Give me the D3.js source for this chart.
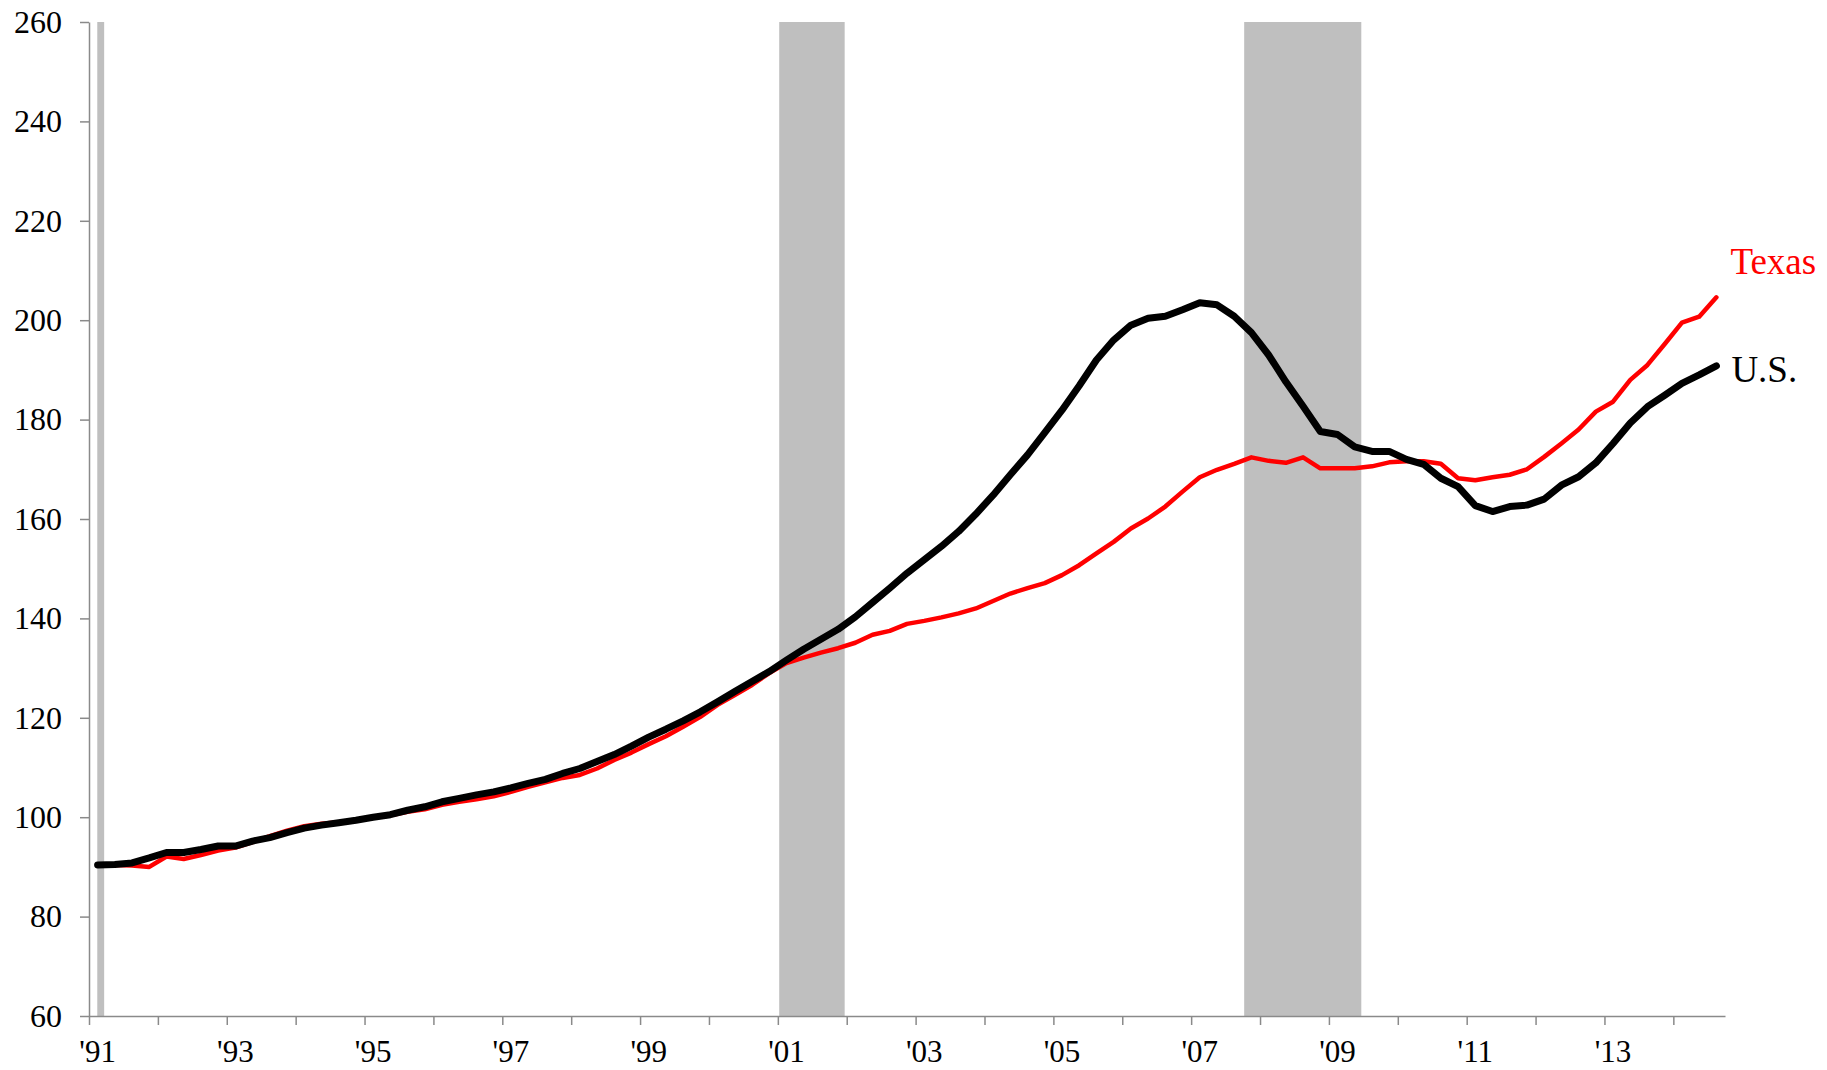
<!DOCTYPE html>
<html lang="en">
<head>
    <meta charset="UTF-8">
    <title>house prices</title>
    <script src="https://d3js.org/d3.v7.min.js"></script>
    <style>
        body { margin: 0; background: #fff; }
        text { font-family: "Liberation Serif", "Times New Roman", serif; }
    </style>
</head>
<body>
<div id="fig"></div>
<script>
    // quarterly index, 1991Q1 .. 2014Q3
    let firstYear = 1991;
    let us = [
        90.4, 90.5, 90.8, 91.8, 92.9, 92.9, 93.5, 94.2, 94.2, 95.2, 95.9, 96.9,
        97.8, 98.4, 98.9, 99.4, 100.0, 100.5, 101.4, 102.1, 103.1, 103.8, 104.5, 105.1,
        105.9, 106.8, 107.6, 108.8, 109.8, 111.2, 112.6, 114.3, 116.1, 117.7, 119.4, 121.2,
        123.2, 125.3, 127.3, 129.3, 131.6, 133.8, 135.8, 137.8, 140.3, 143.2, 146.1, 149.1,
        151.8, 154.5, 157.5, 161.0, 164.8, 168.9, 172.9, 177.4, 181.9, 186.8, 192.0, 196.0,
        199.0, 200.4, 200.8, 202.1, 203.5, 203.1, 200.8, 197.5, 193.0, 187.6, 182.7, 177.6,
        177.0, 174.5, 173.6, 173.6, 172.0, 171.0, 168.2, 166.5, 162.7, 161.5, 162.5, 162.8,
        164.0, 166.8, 168.5, 171.3, 175.2, 179.3, 182.6, 184.9, 187.3, 189.0, 190.8
    ];
    let texas = [
        90.4, 90.4, 90.3, 90.0, 92.1, 91.6, 92.4, 93.3, 93.9, 95.0, 96.2, 97.3,
        98.2, 98.7, 99.0, 99.4, 99.9, 100.4, 101.1, 101.6, 102.5, 103.1, 103.6, 104.2,
        105.1, 106.1, 107.0, 107.9, 108.5, 109.8, 111.5, 113.0, 114.7, 116.3, 118.2, 120.2,
        122.6, 124.6, 126.6, 129.0, 131.0, 132.1, 133.1, 134.0, 135.1, 136.7, 137.5, 138.9,
        139.5, 140.2, 141.0, 142.0, 143.5, 145.0, 146.1, 147.1, 148.7, 150.7, 153.1, 155.4,
        158.1, 160.1, 162.5, 165.5, 168.4, 169.9, 171.1, 172.4, 171.7, 171.3, 172.4, 170.2,
        170.2, 170.2, 170.6, 171.4, 171.6, 171.6, 171.1, 168.2, 167.8, 168.4, 168.9, 170.0,
        172.5, 175.2, 178.0, 181.6, 183.6, 188.0, 191.0, 195.2, 199.5, 200.7, 204.6
    ];
    // recession shading, decimal years
    let recessions = [[1991.12, 1991.22], [2001.02, 2001.97], [2007.77, 2009.47]];
    let yTicks = [60, 80, 100, 120, 140, 160, 180, 200, 220, 240, 260];
    let xTickLabels = ["'91", "'93", "'95", "'97", "'99", "'01", "'03", "'05", "'07", "'09", "'11", "'13"];

    let W = 1827, H = 1070;
    let axisColor = "#8a8a8a";

    let svg = d3.select("#fig").append("svg")
        .attr("width", W).attr("height", H);

    let x = d3.scaleLinear().domain([1991, 2014.75]).range([89, 1725]);
    let y = d3.scaleLinear().domain([60, 260]).range([1016, 22]);

    let tOf = i => firstYear + (i + 0.5) / 4;

    // shaded recessions
    svg.append("g").selectAll("rect")
        .data(recessions).join("rect")
        .attr("x", d => x(d[0]))
        .attr("width", d => x(d[1]) - x(d[0]))
        .attr("y", y(260))
        .attr("height", y(60) - y(260))
        .attr("fill", "#bfbfbf");

    // y axis
    let yAxis = svg.append("g").attr("transform", `translate(${x(1991)},0)`)
        .call(d3.axisLeft(y).tickValues(yTicks).tickSize(9).tickPadding(18).tickSizeOuter(0));
    yAxis.select(".domain").attr("stroke", axisColor).attr("stroke-width", 1.5);
    yAxis.selectAll(".tick line").attr("stroke", axisColor).attr("stroke-width", 1.5);
    yAxis.selectAll(".tick text")
        .attr("fill", "#000")
        .style("font-family", "'Liberation Serif', 'Times New Roman', serif")
        .style("font-size", "32px");

    // x axis: yearly ticks, labels on odd years under the first quarter
    let xAxis = svg.append("g").attr("transform", `translate(0,${y(60)})`)
        .call(d3.axisBottom(x).tickValues(d3.range(1991, 2015)).tickSize(9).tickFormat("").tickSizeOuter(0));
    xAxis.select(".domain").attr("stroke", axisColor).attr("stroke-width", 1.5);
    xAxis.selectAll(".tick line").attr("stroke", axisColor).attr("stroke-width", 1.5);

    svg.append("g").selectAll("text")
        .data(xTickLabels).join("text")
        .attr("x", (d, i) => x(firstYear + 2 * i + 0.125))
        .attr("y", y(60) + 46)
        .attr("text-anchor", "middle")
        .style("font-size", "31px")
        .text(d => d);

    let line = d3.line()
        .x((d, i) => x(tOf(i)))
        .y(d => y(d));

    svg.append("path").datum(texas)
        .attr("d", line)
        .attr("fill", "none")
        .attr("stroke", "#ff0000")
        .attr("stroke-width", 4.5)
        .attr("stroke-linejoin", "round")
        .attr("stroke-linecap", "round");

    svg.append("path").datum(us)
        .attr("d", line)
        .attr("fill", "none")
        .attr("stroke", "#000")
        .attr("stroke-width", 7)
        .attr("stroke-linejoin", "round")
        .attr("stroke-linecap", "round");

    // series labels
    let last = us.length - 1;
    svg.append("text")
        .attr("x", x(tOf(last)) + 14)
        .attr("y", y(texas[last]) - 23)
        .attr("fill", "#ff0000")
        .style("font-size", "37px")
        .text("Texas");
    svg.append("text")
        .attr("x", x(tOf(last)) + 15)
        .attr("y", y(us[last]) + 16)
        .attr("fill", "#000")
        .style("font-size", "37px")
        .text("U.S.");
</script>
</body>
</html>
